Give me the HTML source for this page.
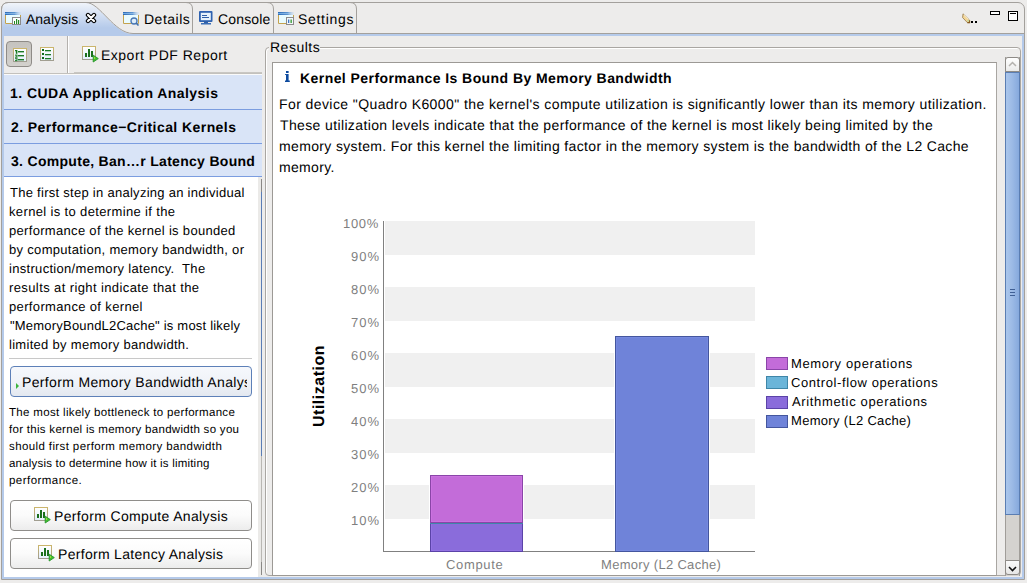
<!DOCTYPE html>
<html><head><meta charset="utf-8"><style>
*{box-sizing:border-box;margin:0;padding:0}
html,body{width:1027px;height:583px;overflow:hidden;background:#edeceb}
body{position:relative;text-rendering:geometricPrecision;font-family:"Liberation Sans",sans-serif;color:#000}
.a{position:absolute}
.t{position:absolute;white-space:pre;line-height:1;font-size:14px}
.b{font-weight:bold}
.s13{font-size:13px}
.s12{font-size:12px}
.g{color:#7f7f7f}
</style></head><body>

<!-- outer frame -->
<div class="a" style="left:1px;top:2px;width:1024px;height:578px;border:1px solid #a3a09c;border-radius:7px 7px 0 0;background:#edeceb"></div>
<!-- blue inner band -->
<div class="a" style="left:2px;top:34px;width:1022px;height:545px;border:2px solid #b5caea;border-top-width:2px"></div>

<!-- tab strip -->
<svg class="a" style="left:0;top:0" width="1027" height="36" viewBox="0 0 1027 36">
  <defs>
    <linearGradient id="tg" x1="0" y1="0" x2="0" y2="1">
      <stop offset="0" stop-color="#f0f4fa"/>
      <stop offset="0.8" stop-color="#b5caea"/>
      <stop offset="1" stop-color="#b5caea"/>
    </linearGradient>
  </defs>
  <path d="M2 34 L2 10 Q2 3 9 3 L86 3 C100 3 114 34 133 34 Z" fill="url(#tg)"/>
  <path d="M1.5 34 L1.5 9.5 Q1.5 2.5 8.5 2.5 L86 2.5 C100 2.5 114 33.5 133 33.5 L1024 33.5" fill="none" stroke="#a3a09c" stroke-width="1"/>
  <path d="M186 2.5 Q192.5 2.5 192.5 9 L192.5 33" fill="none" stroke="#a3a09c"/>
  <path d="M267 2.5 Q273.5 2.5 273.5 9 L273.5 33" fill="none" stroke="#a3a09c"/>
  <path d="M350 2.5 Q356.5 2.5 356.5 9 L356.5 33" fill="none" stroke="#a3a09c"/>
  <rect x="2" y="34" width="1022" height="2" fill="#b5caea"/>
</svg>

<!-- tab labels -->
<div class="t" style="left:26px;top:12px">Analysis</div>
<div class="t" style="left:144px;top:12px;letter-spacing:0.5px">Details</div>
<div class="t" style="left:218px;top:12px;letter-spacing:0.17px">Console</div>
<div class="t" style="left:298px;top:12px;letter-spacing:0.7px">Settings</div>


<!-- icon symbols -->
<svg width="0" height="0" style="position:absolute">
 <defs>
  <linearGradient id="tb" x1="0" y1="0" x2="1" y2="0"><stop offset="0" stop-color="#2d69b4"/><stop offset="0.6" stop-color="#5d96d2"/><stop offset="1" stop-color="#c9daee" stop-opacity="0.3"/></linearGradient>
  <linearGradient id="tb2" x1="0" y1="0" x2="1" y2="0"><stop offset="0" stop-color="#68a9e6"/><stop offset="1" stop-color="#d8e8f6" stop-opacity="0.3"/></linearGradient>
  
  <linearGradient id="cbd" x1="0" y1="0" x2="0" y2="1"><stop offset="0" stop-color="#cbb56c"/><stop offset="1" stop-color="#a19e90"/></linearGradient>
<linearGradient id="cfl" x1="0" y1="0" x2="0" y2="1"><stop offset="0" stop-color="#ffffff"/><stop offset="1" stop-color="#e4eefa"/></linearGradient>
 </defs>
</svg>

<!-- Analysis tab icon -->
<svg class="a" style="left:5px;top:12px" width="17" height="14" viewBox="0 0 17 14"><rect x="0" y="3" width="16" height="9" fill="#e9fbff"/>
   <path d="M0.5 3 V11.5 H15.5 V3" fill="none" stroke="#c4a24e"/>
   <rect x="0" y="0" width="16" height="3" fill="url(#tb)"/>
   <rect x="0" y="1" width="16" height="1" fill="url(#tb2)"/>
 <rect x="7.5" y="5.5" width="8" height="7" fill="#fff" stroke="#8a8a8a"/>
 <rect x="9" y="9" width="1" height="3" fill="#238a23"/><rect x="11" y="7" width="1.2" height="5" fill="#238a23"/><rect x="13" y="8" width="1.2" height="4" fill="#238a23"/>
</svg>
<!-- close X -->
<svg class="a" style="left:85px;top:12px" width="12" height="12" viewBox="0 0 12 12">
 <path d="M3 3 L9 9 M9 3 L3 9" stroke="#000" stroke-width="4.4" stroke-linecap="round"/>
 <path d="M3 3 L9 9 M9 3 L3 9" stroke="#fff" stroke-width="2.2" stroke-linecap="round"/>
</svg>
<!-- Details icon -->
<svg class="a" style="left:123px;top:12px" width="17" height="15" viewBox="0 0 17 15"><rect x="0" y="3" width="16" height="9" fill="#e9fbff"/>
   <path d="M0.5 3 V11.5 H15.5 V3" fill="none" stroke="#c4a24e"/>
   <rect x="0" y="0" width="16" height="3" fill="url(#tb)"/>
   <rect x="0" y="1" width="16" height="1" fill="url(#tb2)"/>
 <circle cx="11" cy="9" r="3" fill="#dfeefa" stroke="#4a78b5" stroke-width="1.3"/>
 <path d="M13 11 L15.5 13.5" stroke="#3f6fb0" stroke-width="1.6"/>
</svg>
<!-- Console icon -->
<svg class="a" style="left:199px;top:11px" width="14" height="14" viewBox="0 0 14 14">
 <rect x="0" y="0" width="13.5" height="11" rx="1" fill="#2f62b0"/>
 <rect x="1.8" y="1.8" width="10" height="7.4" fill="#e6f3fc"/>
 <rect x="3" y="4" width="5" height="1" fill="#2f5fa8"/><rect x="3" y="6" width="7" height="1" fill="#2f5fa8"/>
 <rect x="5" y="10" width="4" height="2" fill="#2f5fa8"/><rect x="2" y="12" width="10" height="1.5" fill="#3a6db5"/>
</svg>
<!-- Settings icon -->
<svg class="a" style="left:278px;top:12px" width="17" height="14" viewBox="0 0 17 14"><rect x="0" y="3" width="16" height="9" fill="#e9fbff"/>
   <path d="M0.5 3 V11.5 H15.5 V3" fill="none" stroke="#c4a24e"/>
   <rect x="0" y="0" width="16" height="3" fill="url(#tb)"/>
   <rect x="0" y="1" width="16" height="1" fill="url(#tb2)"/>
 <rect x="8.5" y="5.5" width="7" height="7" fill="#f4f6fa" stroke="#8a8a8a"/>
 <rect x="10" y="7.5" width="1.3" height="3.5" fill="#3a78c8"/><rect x="12.5" y="7.5" width="1.3" height="3.5" fill="#2f9a2f"/>
</svg>

<!-- pencil + dots -->
<svg class="a" style="left:962px;top:13px" width="17" height="11" viewBox="0 0 17 11">
 <path d="M1 0.8 L7.6 7.2 L7.6 9.6 L5.4 9.6 L0.6 4.6 Z" fill="#f2d596" stroke="#8a6a35" stroke-width="0.7"/>
 <path d="M1.8 2 L6.5 6.6" stroke="#fbeec8" stroke-width="1"/>
 <path d="M5.6 7.3 L6.9 8.6" stroke="#b8d49a" stroke-width="1.4"/>
 <path d="M5.4 9.6 L7.6 9.6 L7.6 7.6" fill="none" stroke="#8a5a20" stroke-width="1.1"/>
 <rect x="9" y="8" width="2" height="2" fill="#000"/><rect x="13" y="8" width="2" height="2" fill="#000"/>
</svg>
<!-- min / max -->
<div class="a" style="left:990px;top:11px;width:10px;height:4px;border:1px solid #000;background:#fff"></div>
<div class="a" style="left:1008px;top:11px;width:10px;height:10px;border:1px solid #000;background:#fff"></div>
<div class="a" style="left:1010px;top:13px;width:6px;height:1px;background:#000"></div>

<!-- ===== LEFT PANEL ===== -->
<!-- toolbar lines -->
<div class="a" style="left:67px;top:36px;width:1px;height:37px;background:#b4b1ad"></div>
<div class="a" style="left:68px;top:36px;width:1px;height:37px;background:#fff"></div>
<div class="a" style="left:4px;top:73px;width:258px;height:1px;background:#c3c1bd"></div>
<div class="a" style="left:74px;top:72px;width:188px;height:1px;background:#c9c7c3"></div>
<div class="a" style="left:4px;top:74px;width:258px;height:1px;background:#fafafa"></div>
<!-- pressed toggle -->
<div class="a" style="left:6px;top:41px;width:26px;height:26px;border:1px solid #8e8b87;border-radius:4px;background:linear-gradient(#c5c3bf,#d3d1cd)"></div>
<svg class="a" style="left:13px;top:48px" width="14" height="14" viewBox="0 0 14 14">
 <rect x="0.5" y="0.5" width="13" height="13" fill="url(#cfl)" stroke="url(#cbd)"/>
 <rect x="2" y="2" width="1" height="1.2" fill="#1b7a25"/><rect x="2.8" y="2" width="1.6" height="3.8" fill="#1b7a25"/>
 <rect x="2" y="6.6" width="2.6" height="1.1" fill="#1b7a25"/><rect x="3" y="7.6" width="1.4" height="1.1" fill="#1b7a25"/><rect x="2" y="8.6" width="2.6" height="1.1" fill="#1b7a25"/>
 <rect x="2" y="10.2" width="2.6" height="1" fill="#1b7a25"/><rect x="3.4" y="11.2" width="1.2" height="1" fill="#1b7a25"/><rect x="2" y="12.1" width="2.4" height="1.1" fill="#1b7a25"/>
 <rect x="5" y="3" width="6" height="1.4" fill="#1b7a25"/><rect x="5" y="7" width="6" height="1.4" fill="#1b7a25"/><rect x="5" y="11" width="6" height="1.4" fill="#1b7a25"/>
</svg>
<svg class="a" style="left:40px;top:47px" width="14" height="14" viewBox="0 0 14 14">
 <rect x="0.5" y="0.5" width="13" height="13" fill="url(#cfl)" stroke="url(#cbd)"/>
 <rect x="2" y="2" width="2" height="2" fill="#0f6a1a"/><rect x="5" y="3" width="6" height="1.3" fill="#1b7a25"/>
 <rect x="2" y="6" width="2" height="2" fill="#0f6a1a"/><rect x="5" y="7" width="6" height="1.3" fill="#1b7a25"/>
 <rect x="2" y="10" width="2" height="2" fill="#0f6a1a"/><rect x="5" y="11" width="6" height="1.3" fill="#1b7a25"/>
</svg>
<!-- export -->
<svg class="a" style="left:82px;top:46px" width="17" height="17" viewBox="0 0 17 17"><rect x="0.5" y="0.5" width="13" height="13" fill="url(#cfl)" stroke="url(#cbd)"/>
   <rect x="3" y="7" width="2" height="4" fill="#1b6f1b"/>
   <rect x="6" y="3" width="2" height="8" fill="#1b6f1b"/>
   <rect x="9" y="5" width="2" height="6" fill="#1b6f1b"/>
   <path d="M11.2 9.2 L16.3 12.6 L11.2 16 Z" fill="#3fbf2f" stroke="#27952a" stroke-width="0.9" stroke-linejoin="round"/>
   <path d="M12 11 L13.5 12 L12 13 Z" fill="#c8ef40"/></svg>
<div class="t" style="left:101px;top:48px;letter-spacing:0.5px">Export PDF Report</div>

<!-- sections -->
<div class="a" style="left:4px;top:75px;width:258px;height:102px;background:#d9e4f7"></div>
<div class="a" style="left:4px;top:109px;width:258px;height:1px;background:#7b9de0"></div>
<div class="a" style="left:4px;top:143px;width:258px;height:1px;background:#7b9de0"></div>
<div class="a" style="left:4px;top:176px;width:258px;height:1px;background:#7b9de0"></div>
<div class="t b" style="left:10px;top:86px;letter-spacing:0.44px">1. CUDA Application Analysis</div>
<div class="t b" style="left:11px;top:120px;letter-spacing:0.43px">2. Performance&#8722;Critical Kernels</div>
<div class="t b" style="left:11px;top:154px;letter-spacing:0.3px">3. Compute, Ban&#8230;r Latency Bound</div>

<!-- left content -->
<div class="a" style="left:4px;top:177px;width:254px;height:400px;background:#fff"></div>
<div class="a" style="left:258px;top:177px;width:4px;height:400px;background:#ebeae8"></div>
<div class="a" style="left:261px;top:179px;width:1px;height:13px;background:#8a8886"></div>
<div class="a" style="left:261px;top:192px;width:1px;height:264px;background:#5a7db5"></div>
<div class="a" style="left:261px;top:456px;width:1px;height:106px;background:#b9b7b3"></div>
<div class="a" style="left:261px;top:562px;width:1px;height:13px;background:#8a8886"></div>

<div class="t s13" style="left:10px;top:186px;letter-spacing:0.275px">The first step in analyzing an individual</div>
<div class="t s13" style="left:9px;top:205px;letter-spacing:0.357px">kernel is to determine if the</div>
<div class="t s13" style="left:9px;top:224px;letter-spacing:0.314px">performance of the kernel is bounded</div>
<div class="t s13" style="left:9px;top:243px;letter-spacing:0.314px">by computation, memory bandwidth, or</div>
<div class="t s13" style="left:9px;top:262px;letter-spacing:0.306px">instruction/memory latency.&nbsp; The</div>
<div class="t s13" style="left:9px;top:281px;letter-spacing:0.394px">results at right indicate that the</div>
<div class="t s13" style="left:9px;top:300px;letter-spacing:0.35px">performance of kernel</div>
<div class="t s13" style="left:10px;top:319px;letter-spacing:0.206px">"MemoryBoundL2Cache" is most likely</div>
<div class="t s13" style="left:9px;top:338px;letter-spacing:0.296px">limited by memory bandwidth.</div>
<div class="a" style="left:9px;top:358px;width:243px;height:1px;background:#c8c8c8"></div>

<!-- focused button -->
<div class="a" style="left:10px;top:366px;width:242px;height:31px;border:1px solid #5d80b8;border-radius:4px;background:linear-gradient(#f6f8fc,#f0f3f8 50%,#e3e8f0);overflow:hidden">
 <svg class="a" style="left:1px;top:15px" width="8" height="8" viewBox="0 0 8 8"><path d="M4 1 L7 4 L4 7 Z" fill="#3cb43c"/></svg>
 <div class="a" style="left:0;top:0;width:236px;height:29px;overflow:hidden"><div class="t" style="left:11px;top:8px;letter-spacing:0.348px">Perform Memory Bandwidth Analysis</div></div>
</div>

<div class="t s12" style="left:9px;top:408px;font-size:11.5px;letter-spacing:0.325px">The most likely bottleneck to performance</div>
<div class="t s12" style="left:9px;top:425px;font-size:11.5px;letter-spacing:0.293px">for this kernel is memory bandwidth so you</div>
<div class="t s12" style="left:9px;top:442px;font-size:11.5px;letter-spacing:0.389px">should first perform memory bandwidth</div>
<div class="t s12" style="left:9px;top:459px;font-size:11.5px;letter-spacing:0.205px">analysis to determine how it is limiting</div>
<div class="t s12" style="left:9px;top:476px;font-size:11.5px;letter-spacing:0.455px">performance.</div>

<div class="a" style="left:10px;top:500px;width:242px;height:31px;border:1px solid #8f8d8a;border-radius:4px;background:linear-gradient(#ffffff,#fbfbfb 50%,#ececec)"></div>
<svg class="a" style="left:34px;top:507px" width="17" height="17" viewBox="0 0 17 17"><rect x="0.5" y="0.5" width="13" height="13" fill="url(#cfl)" stroke="url(#cbd)"/>
   <rect x="3" y="7" width="2" height="4" fill="#1b6f1b"/>
   <rect x="6" y="3" width="2" height="8" fill="#1b6f1b"/>
   <rect x="9" y="5" width="2" height="6" fill="#1b6f1b"/>
   <path d="M11.2 9.2 L16.3 12.6 L11.2 16 Z" fill="#3fbf2f" stroke="#27952a" stroke-width="0.9" stroke-linejoin="round"/>
   <path d="M12 11 L13.5 12 L12 13 Z" fill="#c8ef40"/></svg>
<div class="t" style="left:54px;top:509px;letter-spacing:0.348px">Perform Compute Analysis</div>

<div class="a" style="left:10px;top:538px;width:242px;height:31px;border:1px solid #8f8d8a;border-radius:4px;background:linear-gradient(#ffffff,#fbfbfb 50%,#ececec)"></div>
<svg class="a" style="left:38px;top:545px" width="17" height="17" viewBox="0 0 17 17"><rect x="0.5" y="0.5" width="13" height="13" fill="url(#cfl)" stroke="url(#cbd)"/>
   <rect x="3" y="7" width="2" height="4" fill="#1b6f1b"/>
   <rect x="6" y="3" width="2" height="8" fill="#1b6f1b"/>
   <rect x="9" y="5" width="2" height="6" fill="#1b6f1b"/>
   <path d="M11.2 9.2 L16.3 12.6 L11.2 16 Z" fill="#3fbf2f" stroke="#27952a" stroke-width="0.9" stroke-linejoin="round"/>
   <path d="M12 11 L13.5 12 L12 13 Z" fill="#c8ef40"/></svg>
<div class="t" style="left:58px;top:547px;letter-spacing:0.304px">Perform Latency Analysis</div>

<!-- ===== RIGHT PANEL ===== -->
<!-- group box -->
<div class="a" style="left:265px;top:47px;width:756px;height:529px;border:1px solid #a9a6a2;border-radius:4px;box-shadow:inset 1px 1px 0 #fff"></div>
<div class="a" style="left:269px;top:44px;width:51px;height:6px;background:#edeceb"></div>
<div class="t" style="left:270px;top:40px;letter-spacing:0.5px">Results</div>

<!-- white content box -->
<div class="a" style="left:272px;top:62px;width:725px;height:514px;border:1px solid #9c9995;border-right-color:#a9a6a2;background:#fff"></div>

<!-- right scrollbar -->
<div class="a" style="left:1005px;top:57px;width:15px;height:519px;background:#d4d2cf;border-left:1px solid #a09d99;border-right:1px solid #a09d99"></div>
<div class="a" style="left:1005px;top:57px;width:15px;height:15px;border:1px solid #8e8b87;border-radius:3px 3px 0 0;background:linear-gradient(#ffffff,#ebebea)"></div>
<svg class="a" style="left:1008px;top:61px" width="9" height="7" viewBox="0 0 9 7"><path d="M1 5 L4.5 1.5 L8 5" fill="none" stroke="#b4b2ae" stroke-width="1.5"/></svg>
<div class="a" style="left:1005px;top:72px;width:15px;height:443px;border:1px solid #5a7db2;background:linear-gradient(90deg,#aac6ec,#9dbbe6 45%,#86a9dd)"></div>
<div class="a" style="left:1010px;top:289px;width:5px;height:1px;background:#3f5f95"></div>
<div class="a" style="left:1010px;top:292px;width:5px;height:1px;background:#3f5f95"></div>
<div class="a" style="left:1010px;top:295px;width:5px;height:1px;background:#3f5f95"></div>
<div class="a" style="left:1005px;top:560px;width:15px;height:15px;border:1px solid #8e8b87;border-radius:0 0 3px 3px;background:linear-gradient(#fafafa,#e6e6e5)"></div>
<svg class="a" style="left:1008px;top:565px" width="9" height="7" viewBox="0 0 9 7"><path d="M1 2 L4.5 5.5 L8 2" fill="none" stroke="#111" stroke-width="1.6"/></svg>

<!-- info icon + title -->
<svg class="a" style="left:284px;top:70px" width="7" height="13" viewBox="0 0 7 13"><rect x="2" y="1" width="2.6" height="2" fill="#0d4a9e"/><rect x="2" y="4" width="2.6" height="7.5" fill="#0d4a9e"/><rect x="1" y="4" width="1.5" height="1" fill="#2a62ae"/><rect x="1" y="10.5" width="4.8" height="1.5" fill="#0d4a9e"/></svg>
<div class="t b" style="left:300px;top:71px;letter-spacing:0.435px">Kernel Performance Is Bound By Memory Bandwidth</div>

<div class="t" style="left:279px;top:97px;letter-spacing:0.413px">For device "Quadro K6000" the kernel's compute utilization is significantly lower than its memory utilization.</div>
<div class="t" style="left:280px;top:118px;letter-spacing:0.369px">These utilization levels indicate that the performance of the kernel is most likely being limited by the</div>
<div class="t" style="left:279px;top:139px;letter-spacing:0.35px">memory system. For this kernel the limiting factor in the memory system is the bandwidth of the L2 Cache</div>
<div class="t" style="left:279px;top:160px;letter-spacing:0.333px">memory.</div>

<!-- chart -->
<div class="a" style="left:385px;top:221px;width:370px;height:34px;background:#f0f0f0"></div>
<div class="a" style="left:385px;top:287px;width:370px;height:34px;background:#f0f0f0"></div>
<div class="a" style="left:385px;top:353px;width:370px;height:34px;background:#f0f0f0"></div>
<div class="a" style="left:385px;top:419px;width:370px;height:34px;background:#f0f0f0"></div>
<div class="a" style="left:385px;top:485px;width:370px;height:34px;background:#f0f0f0"></div>
<div class="a" style="left:383px;top:221px;width:1px;height:331px;background:#808080"></div>
<div class="a" style="left:383px;top:551px;width:372px;height:1px;background:#808080"></div>

<div class="a" style="left:429px;top:475px;width:1px;height:76px;background:#fff"></div>
<div class="a" style="left:523px;top:475px;width:1px;height:76px;background:#fff"></div>
<div class="a" style="left:614px;top:336px;width:1px;height:215px;background:#fff"></div>
<div class="a" style="left:709px;top:336px;width:1px;height:215px;background:#fff"></div>
<div class="a" style="left:430px;top:475px;width:93px;height:48px;background:#c36cd9;border:1px solid #8a45a8;box-shadow:inset 0 0 0 1px #cb72e0"></div>
<div class="a" style="left:430px;top:523px;width:93px;height:1px;background:#3f86a8"></div>
<div class="a" style="left:430px;top:524px;width:93px;height:28px;background:#8a6cdb;border:1px solid #5b43a8;border-top:none;box-shadow:inset 1px -1px 0 #9373e3"></div>
<div class="a" style="left:615px;top:336px;width:94px;height:216px;background:#6f83d9;border:1px solid #44569e;box-shadow:inset 0 0 0 1px #7689df"></div>

<div class="t s13 g" style="left:343px;top:217px;letter-spacing:0.667px">100%</div>
<div class="t s13 g" style="left:351px;top:250px;letter-spacing:1px">90%</div>
<div class="t s13 g" style="left:351px;top:283px;letter-spacing:1px">80%</div>
<div class="t s13 g" style="left:351px;top:316px;letter-spacing:1px">70%</div>
<div class="t s13 g" style="left:351px;top:349px;letter-spacing:1px">60%</div>
<div class="t s13 g" style="left:351px;top:382px;letter-spacing:1px">50%</div>
<div class="t s13 g" style="left:351px;top:415px;letter-spacing:1px">40%</div>
<div class="t s13 g" style="left:351px;top:448px;letter-spacing:1px">30%</div>
<div class="t s13 g" style="left:351px;top:481px;letter-spacing:1px">20%</div>
<div class="t s13 g" style="left:351px;top:514px;letter-spacing:1px">10%</div>

<div class="t" style="left:275px;top:378px;font-size:16px;font-weight:bold;letter-spacing:0.5px;transform:rotate(-90deg);transform-origin:center;width:90px;text-align:center">Utilization</div>

<div class="t s13 g" style="left:446px;top:558px;letter-spacing:0.667px">Compute</div>
<div class="t s13 g" style="left:601px;top:558px;letter-spacing:0.312px">Memory (L2 Cache)</div>

<!-- legend -->
<div class="a" style="left:766px;top:357px;width:22px;height:13px;background:#c36cd9;border:1px solid #8a45a8"></div>
<div class="a" style="left:766px;top:376px;width:22px;height:13px;background:#6bb5d9;border:1px solid #3f86a8"></div>
<div class="a" style="left:766px;top:396px;width:22px;height:13px;background:#8a6cdb;border:1px solid #5b43a8"></div>
<div class="a" style="left:766px;top:415px;width:22px;height:13px;background:#6f83d9;border:1px solid #44569e"></div>
<div class="t s13" style="left:791px;top:357px;letter-spacing:0.625px">Memory operations</div>
<div class="t s13" style="left:791px;top:376px;letter-spacing:0.591px">Control-flow operations</div>
<div class="t s13" style="left:792px;top:395px;letter-spacing:0.65px">Arithmetic operations</div>
<div class="t s13" style="left:791px;top:414px;letter-spacing:0.312px">Memory (L2 Cache)</div>

</body></html>
